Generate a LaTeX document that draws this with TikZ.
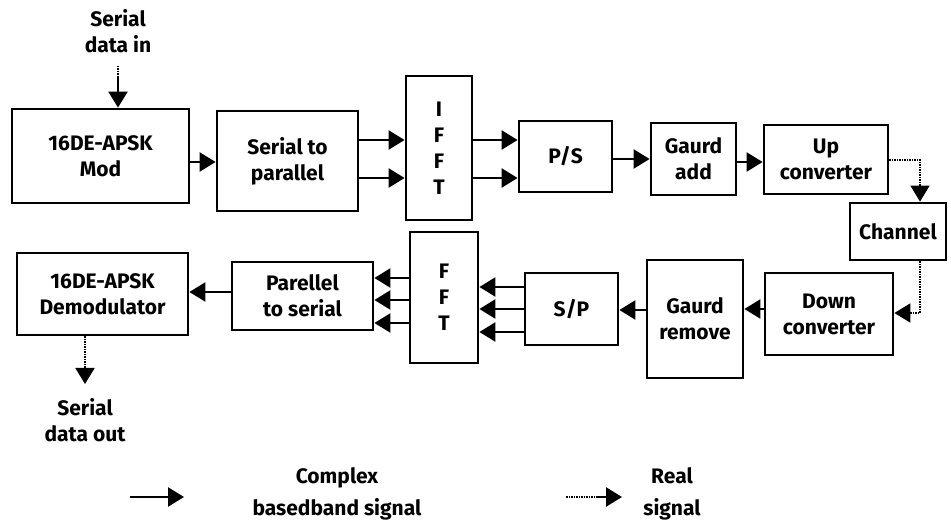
\documentclass[tikz,border=0pt]{standalone}
\usepackage{fontspec}
\setmainfont{Fira Sans}
\usetikzlibrary{arrows.meta}
\begin{document}
\begin{tikzpicture}[x=1pt,y=-1pt,
  blk/.style={draw, line width=2.8pt, inner sep=0pt, align=center,
    font=\fontsize{21}{26}\selectfont\bfseries},
  lbl/.style={inner sep=0pt, align=center, font=\fontsize{21}{26}\selectfont\bfseries},
  arr/.style={line width=2.4pt, -{Triangle[length=16pt,width=19pt]}},
  real/.style={line width=1.8pt, dash pattern=on 1.5pt off 1pt, -{Triangle[length=16pt,width=19pt]}},
  realrest/.style={line width=1.8pt, dash pattern=on 1.5pt off 1pt}]
\useasboundingbox (0,0) rectangle (951,529);
% blocks
\node[blk, minimum width=177pt, minimum height=94pt] (mod) at (100.5,156) {16DE-APSK\\Mod};
\node[blk, minimum width=141pt, minimum height=100pt] (s2p) at (287.5,161) {Serial to\\parallel};
\node[blk, minimum width=66pt, minimum height=144pt] (ifft) at (439,148) {I\\F\\F\\T};
\node[blk, minimum width=93pt, minimum height=71pt] (ps) at (565.5,156.5) {P/S};
\node[blk, minimum width=85pt, minimum height=72pt] (ga) at (693.5,159) {Gaurd\\add};
\node[blk, minimum width=124pt, minimum height=69pt] (up) at (826,159.5) {Up\\converter};
\node[blk, minimum width=96pt, minimum height=57pt] (ch) at (898,231.5) {Channel};
\node[blk, minimum width=128pt, minimum height=82pt] (down) at (829,314) {Down\\converter};
\node[blk, minimum width=96pt, minimum height=118pt] (gr) at (695,319) {Gaurd\\remove};
\node[blk, minimum width=93pt, minimum height=72pt] (sp) at (571.5,309) {S/P};
\node[blk, minimum width=68pt, minimum height=131pt] (fft) at (444,297.5) {F\\F\\T};
\node[blk, minimum width=141pt, minimum height=68pt] (p2s) at (302.5,296) {Parellel\\to serial};
\node[blk, minimum width=171pt, minimum height=82pt] (dem) at (102.5,294) {16DE-APSK\\Demodulator};
% texts
\node[lbl] (sin) at (118,31) {Serial\\data in};
\node[lbl] (sout) at (85,420) {Serial\\data out};
\node[lbl, font=\fontsize{21}{32}\selectfont\bfseries] (lc) at (337,494) {Complex\\basedband signal};
\node[lbl, font=\fontsize{21}{32}\selectfont\bfseries] (lr) at (672,494) {Real\\signal};
% input
\coordinate (inA) at (118,66);
\coordinate (inB) at (118,77);
\draw[realrest] (inA) -- (inB);
\draw[arr] (inB) -- (mod.north -| inB);
% upper chain
\draw[arr] (mod.east |- 0,162) -- (s2p.west |- 0,162);
\draw[arr] (s2p.east |- 0,140) -- (ifft.west |- 0,140);
\draw[arr] (s2p.east |- 0,178) -- (ifft.west |- 0,178);
\draw[arr] (ifft.east |- 0,140) -- (ps.west |- 0,140);
\draw[arr] (ifft.east |- 0,178) -- (ps.west |- 0,178);
\draw[arr] (ps.east |- 0,159) -- (ga.west |- 0,159);
\draw[arr] (ga.east |- 0,162) -- (up.west |- 0,162);
% real links
\coordinate (c1) at (920,160);
\draw[real] (up.east |- c1) -- (c1) -- (ch.north -| c1);
\coordinate (c2) at (920,313);
\draw[real] (ch.south -| c2) -- (c2) -- (down.east |- c2);
% lower chain
\draw[arr] (down.west |- 0,309) -- (gr.east |- 0,309);
\draw[arr] (gr.west |- 0,310) -- (sp.east |- 0,310);
\draw[arr] (sp.west |- 0,287) -- (fft.east |- 0,287);
\draw[arr] (sp.west |- 0,309) -- (fft.east |- 0,309);
\draw[arr] (sp.west |- 0,332) -- (fft.east |- 0,332);
\draw[arr] (fft.west |- 0,278) -- (p2s.east |- 0,278);
\draw[arr] (fft.west |- 0,300) -- (p2s.east |- 0,300);
\draw[arr] (fft.west |- 0,323) -- (p2s.east |- 0,323);
\draw[arr] (p2s.west |- 0,292) -- (dem.east |- 0,292);
\coordinate (o1) at (85,384);
\draw[real] (dem.south -| o1) -- (o1);
% legend
\coordinate (l1) at (130,497);
\coordinate (l2) at (184,497);
\draw[arr] (l1) -- (l2);
\coordinate (l3) at (566,497);
\coordinate (l4) at (622,497);
\draw[realrest] (l3) -- (598,497);
\draw[arr] (596,497) -- (l4);
\end{tikzpicture}
\end{document}
